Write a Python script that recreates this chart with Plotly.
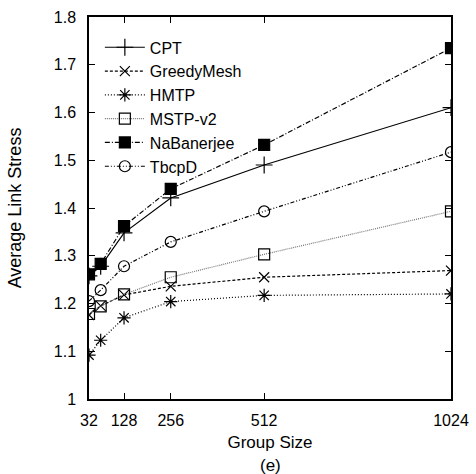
import plotly.graph_objects as go

group_size = [32, 64, 128, 256, 512, 1024]
x_ticks = [32, 128, 256, 512, 1024]

cpt = [1.258, 1.278, 1.348, 1.421, 1.490, 1.610]
greedymesh = [1.176, 1.195, 1.218, 1.236, 1.255, 1.269]
hmtp = [1.092, 1.123, 1.170, 1.204, 1.217, 1.220]
mstp_v2 = [1.178, 1.194, 1.219, 1.255, 1.303, 1.393]
nabanerjee = [1.261, 1.283, 1.362, 1.440, 1.532, 1.735]
tbcpd = [1.205, 1.228, 1.278, 1.329, 1.393, 1.517]

series = [
    ("CPT", cpt, "solid", "cross-thin", "black", 12),
    ("GreedyMesh", greedymesh, "3px,2px", "x-thin", "black", 10),
    ("HMTP", hmtp, "1px,2px", "asterisk", "black", 11),
    ("MSTP-v2", mstp_v2, "1px,1px", "square-open", "#777777", 11),
    ("NaBanerjee", nabanerjee, "5px,2px,1px,2px", "square", "black", 11),
    ("TbcpD", tbcpd, "4px,2px,1px,2px,1px,2px", "circle-open", "black", 11),
]

FAMILY = "Liberation Sans, Arial, sans-serif"

fig = go.Figure()
for name, vals, dash, sym, lcol, size in series:
    fig.add_trace(go.Scatter(
        x=group_size, y=vals, name=name, mode="lines+markers",
        line=dict(color=lcol, width=1.2, dash=dash),
        marker=dict(symbol=sym, size=size, color="black",
                    line=dict(color="black", width=1.2)),
    ))

fig.update_layout(
    width=476, height=474,
    margin=dict(l=89, r=25, t=17, b=75),
    paper_bgcolor="white", plot_bgcolor="white",
    font=dict(family=FAMILY, size=16, color="black"),
    showlegend=True,
    legend=dict(x=0.03, y=0.965, xanchor="left", yanchor="top",
                bgcolor="rgba(0,0,0,0)",
                font=dict(family=FAMILY, size=16, color="black"),
                tracegroupgap=0, itemwidth=40),
    annotations=[dict(text="(e)", xref="paper", yref="paper", x=0.5, y=-0.1728,
                      xanchor="center", yanchor="middle", showarrow=False,
                      font=dict(family=FAMILY, size=17, color="black"))],
)
fig.update_xaxes(
    range=[32, 1024], tickvals=x_ticks, ticktext=[str(v) for v in x_ticks],
    ticks="inside", ticklen=6, tickcolor="black", mirror="ticks",
    showline=True, linecolor="black", linewidth=1.5, showgrid=False, zeroline=False,
    automargin=False, ticklabelstandoff=6,
    title=dict(text="Group Size", standoff=8,
               font=dict(family=FAMILY, size=17, color="black")),
)
fig.update_yaxes(
    range=[1.0, 1.8], dtick=0.1, tickformat=".1~f",
    ticks="inside", ticklen=6, tickcolor="black", mirror="ticks",
    showline=True, linecolor="black", linewidth=1.5, showgrid=False, zeroline=False,
    automargin=False, ticklabelstandoff=8,
    title=dict(text="Average Link Stress", standoff=27,
               font=dict(family=FAMILY, size=18, color="black")),
)
fig.write_html("out.html", config={"displayModeBar": False})

with open("out.html", "r", encoding="utf-8") as f:
    html = f.read()
html = html.replace("<head>", "<head><style>html,body{margin:0;padding:0;overflow:hidden;}</style>", 1)
with open("out.html", "w", encoding="utf-8") as f:
    f.write(html)
